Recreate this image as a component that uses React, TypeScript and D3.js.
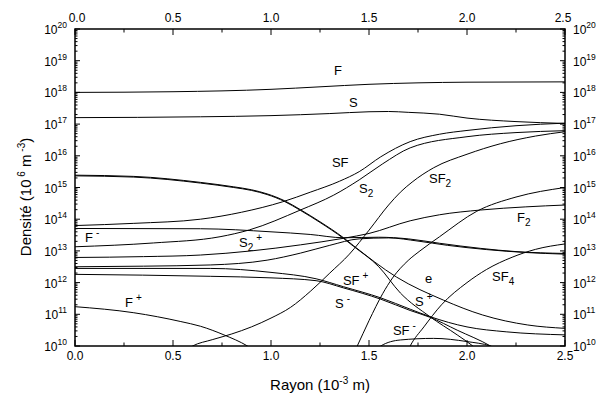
import React from "react";
import * as d3 from "d3";

// radius (10^-3 m) , density (10^6 m^-3)
const F_data = [[0, 1.0e18], [0.5, 1.05e18], [1.0, 1.25e18], [1.25, 1.5e18], [1.5, 1.8e18], [1.75, 2.0e18], [2.0, 2.1e18], [2.5, 2.15e18]];
const S_data = [[0, 1.6e17], [0.64, 1.7e17], [1.0, 1.85e17], [1.3, 2.15e17], [1.5, 2.45e17], [1.6, 2.5e17], [1.7, 2.35e17], [1.86, 2.05e17], [2.0, 1.55e17], [2.25, 1.2e17], [2.5, 1.05e17]];
const SF_data = [[0, 6.3e13], [0.3, 7.4e13], [0.64, 1.0e14], [0.85, 1.66e14], [1.06, 3.55e14], [1.2, 7.1e14], [1.35, 1.58e15], [1.45, 3.16e15], [1.56, 9.3e15], [1.71, 2.8e16], [1.86, 4.8e16], [2.0, 6.3e16], [2.25, 8.9e16], [2.5, 1.07e17]];
const S2_data = [[0, 1.35e13], [0.4, 1.78e13], [0.74, 2.8e13], [0.89, 4.6e13], [1.15, 1.95e14], [1.32, 5.75e14], [1.45, 1.74e15], [1.57, 5.6e15], [1.71, 1.78e16], [2.0, 4.0e16], [2.25, 5.4e16], [2.5, 6.2e16]];
const SF2_data = [[0.55, 6.3e9], [0.6, 1.0e10], [0.7, 1.58e10], [0.8, 2.4e10], [0.9, 4.0e10], [1.0, 7.6e10], [1.1, 1.66e11], [1.2, 5.25e11], [1.3, 2.0e12], [1.4, 7.9e12], [1.5, 4.5e13], [1.6, 2.8e14], [1.66, 7.1e14], [1.72, 1.48e15], [1.83, 4.2e15], [2.0, 1.12e16], [2.17, 2.4e16], [2.35, 4.2e16], [2.5, 5.75e16]];
const SF3_data = [[1.4, 3.2e9], [1.44, 1.0e10], [1.5, 6.3e10], [1.57, 4.5e11], [1.62, 1.4e12], [1.7, 5.0e12], [1.76, 1.0e13], [1.86, 2.8e13], [2.05, 1.78e14], [2.25, 5.0e14], [2.5, 1.0e15]];
const F2_data = [[0, 6.2e12], [0.35, 6.6e12], [0.64, 7.4e12], [0.9, 1.0e13], [1.15, 1.55e13], [1.37, 2.5e13], [1.5, 3.55e13], [1.71, 8.9e13], [1.86, 1.38e14], [2.07, 1.95e14], [2.3, 2.45e14], [2.5, 2.8e14]];
const SF4_data = [[1.68, 4.0e9], [1.71, 1.0e10], [1.78, 4.0e10], [1.87, 2.0e11], [2.0, 1.0e12], [2.1, 2.6e12], [2.23, 6.3e12], [2.35, 1.12e13], [2.5, 1.66e13]];
const e_data = [[0, 2.45e15], [0.3, 2.24e15], [0.64, 1.45e15], [0.81, 1.05e15], [0.9, 8.5e14], [0.98, 6.3e14], [1.07, 3.8e14], [1.15, 2.0e14], [1.25, 8.3e13], [1.37, 2.6e13], [1.42, 1.48e13], [1.64, 1.5e12], [1.88, 2.8e11], [2.08, 9.5e10], [2.31, 4.6e10], [2.5, 3.6e10]];
const Splus_data = [[0, 2.33e15], [0.3, 2.13e15], [0.64, 1.38e15], [0.81, 1.0e15], [0.9, 8.1e14], [0.98, 6.0e14], [1.07, 3.6e14], [1.15, 1.9e14], [1.25, 7.9e13], [1.37, 2.47e13], [1.42, 1.41e13], [1.55, 3.16e12], [1.66, 4.7e11], [1.81, 8.5e10], [1.95, 2.24e10], [2.03, 1.0e10], [2.07, 6.3e9]];
const Fminus_data = [[0, 5.1e13], [0.64, 5.0e13], [1.0, 4.0e13], [1.2, 3.3e13], [1.37, 2.6e13], [1.55, 2.7e13], [1.7, 2.4e13], [1.86, 1.74e13], [2.07, 1.2e13], [2.25, 9.5e12], [2.5, 8.3e12]];
const S2plus_data = [[0, 3.16e12], [0.35, 3.3e12], [0.69, 3.6e12], [0.98, 5.1e12], [1.15, 8.5e12], [1.3, 1.5e13], [1.45, 2.4e13], [1.6, 2.57e13], [1.75, 2.04e13], [1.9, 1.5e13], [2.1, 1.1e13], [2.3, 8.9e12], [2.5, 7.9e12]];
const SFplus_data = [[0, 2.8e12], [0.69, 2.8e12], [1.0, 2.1e12], [1.23, 1.32e12], [1.37, 7.4e11], [1.56, 3.3e11], [1.71, 1.45e11], [1.81, 8.5e10], [2.0, 4.0e10], [2.2, 2.8e10], [2.5, 2.24e10]];
const Sminus_data = [[0, 1.82e12], [0.69, 1.58e12], [1.0, 1.41e12], [1.23, 1.15e12], [1.37, 6.8e11], [1.56, 3.0e11], [1.71, 1.32e11], [1.81, 8.1e10], [1.95, 3.16e10], [2.12, 1.0e10], [2.16, 7.1e9]];
const Fplus_data = [[0, 1.74e11], [0.3, 1.12e11], [0.54, 5.9e10], [0.64, 4.2e10], [0.76, 2.24e10], [0.88, 1.0e10], [0.93, 6.3e9]];
const SFminus_data = [[1.5, 5.0e9], [1.56, 1.0e10], [1.66, 1.55e10], [1.83, 1.74e10], [2.0, 1.38e10], [2.12, 1.0e10], [2.18, 7.1e9]];

const seriesList = [F_data, S_data, SF_data, S2_data, SF2_data, SF3_data, F2_data, SF4_data, e_data, Splus_data, Fminus_data, S2plus_data, SFplus_data, Sminus_data, Fplus_data, SFminus_data];

// label: text, subscript, superscript, radius, density
const labelNames = ["F", "S", "SF", "S", "S", "SF", "F", "F", "F", "SF", "S", "e", "S", "SF", "SF"];
const labelSubs = ["", "", "", "2", "2", "2", "2", "", "", "", "", "", "", "", "4"];
const labelSups = ["", "", "", "", "+", "", "", "-", "+", "+", "-", "", "+", "-", ""];
const labelR = [1.321, 1.398, 1.311, 1.449, 0.837, 1.806, 2.255, 0.051, 0.255, 1.367, 1.327, 1.786, 1.735, 1.622, 2.128];
const labelV = [3.5e18, 3.5e17, 4.5e15, 6.8e14, 1.32e13, 1.38e15, 8.1e13, 1.9e13, 1.7e11, 8.3e11, 1.6e11, 9.8e11, 1.8e11, 2.2e10, 1.12e12];

const xMajor = [0, 0.5, 1.0, 1.5, 2.0, 2.5];
const xMinor = [0.25, 0.75, 1.25, 1.75, 2.25];
const yExps = [10, 11, 12, 13, 14, 15, 16, 17, 18, 19, 20];

const FONT = "'Liberation Sans', Arial, Helvetica, sans-serif";

export default function App() {
  const L = 75, R = 565, T = 29, B = 346;
  const x = d3.scaleLinear().domain([0, 2.5]).range([L, R]);
  const y = d3.scaleLog().domain([1e10, 1e20]).range([B, T]);
  const line = d3.line<number[]>().x(d => x(d[0])).y(d => y(d[1])).curve(d3.curveMonotoneX);

  const yMinor: number[] = [];
  for (let e = 10; e < 20; e++) for (let k = 2; k <= 9; k++) yMinor.push(k * Math.pow(10, e));

  return (
    <svg width={608} height={396} style={{ position: "absolute", left: 0, top: 0, background: "#fff" }} fontFamily={FONT}>
      <defs>
        <clipPath id="plot"><rect x={L} y={T} width={R - L} height={B - T} /></clipPath>
      </defs>
      <rect x={0} y={0} width={608} height={396} fill="#fff" />
      <g clipPath="url(#plot)" fill="none" stroke="#000" strokeWidth={1}>
        {seriesList.map((s, i) => <path key={i} d={line(s) || ""} />)}
      </g>
      {/* ticks */}
      <g stroke="#000" strokeWidth={1}>
        {xMajor.map(v => <line key={"xb" + v} x1={x(v)} x2={x(v)} y1={B} y2={B - 6} />)}
        {xMinor.map(v => <line key={"xbm" + v} x1={x(v)} x2={x(v)} y1={B} y2={B - 3.5} />)}
        {xMajor.map(v => <line key={"xt" + v} x1={x(v)} x2={x(v)} y1={T} y2={T + 6} />)}
        {xMinor.map(v => <line key={"xtm" + v} x1={x(v)} x2={x(v)} y1={T} y2={T + 3.5} />)}
        {yExps.map(e => <line key={"yl" + e} x1={L} x2={L + 5} y1={y(Math.pow(10, e))} y2={y(Math.pow(10, e))} />)}
        {yExps.map(e => <line key={"yr" + e} x1={R} x2={R - 5} y1={y(Math.pow(10, e))} y2={y(Math.pow(10, e))} />)}
        {yMinor.map((v, i) => <line key={"ylm" + i} x1={L} x2={L + 2.5} y1={y(v)} y2={y(v)} />)}
        {yMinor.map((v, i) => <line key={"yrm" + i} x1={R} x2={R - 2.5} y1={y(v)} y2={y(v)} />)}
      </g>
      <rect x={L} y={T} width={R - L} height={B - T} fill="none" stroke="#000" strokeWidth={1.5} />
      {/* tick labels */}
      <g fontSize={12} fill="#000">
        {xMajor.map(v => <text key={"lb" + v} x={x(v)} y={B + 14} textAnchor="middle">{v.toFixed(1)}</text>)}
        {xMajor.map(v => <text key={"lt" + v} x={x(v) + (v === 0 ? 2 : v === 2.5 ? -2 : 0)} y={T - 7} textAnchor="middle">{v.toFixed(1)}</text>)}
        {yExps.map(e => (
          <text key={"tl" + e} x={67} y={y(Math.pow(10, e)) + 5} textAnchor="end">10<tspan fontSize={8.5} dy={-6}>{e}</tspan></text>
        ))}
        {yExps.map(e => (
          <text key={"tr" + e} x={573} y={y(Math.pow(10, e)) + 5} textAnchor="start">10<tspan fontSize={8.5} dy={-6}>{e}</tspan></text>
        ))}
      </g>
      {/* curve labels */}
      <g fontSize={13} fill="#000">
        {labelNames.map((n, i) => (
          <text key={"cl" + i} x={x(labelR[i])} y={y(labelV[i])}>
            {n}
            {labelSubs[i] ? <tspan fontSize={10} dy={4}>{labelSubs[i]}</tspan> : null}
            {labelSups[i] ? <tspan fontSize={10} dx={3} dy={labelSubs[i] ? -10 : -6}>{labelSups[i]}</tspan> : null}
          </text>
        ))}
      </g>
      {/* axis titles */}
      <text x={320} y={390} textAnchor="middle" fontSize={15} fill="#000">
        Rayon (10<tspan fontSize={10} dy={-6}>-3</tspan><tspan dy={6}> m)</tspan>
      </text>
      <text transform="translate(31,197) rotate(-90)" textAnchor="middle" fontSize={15} fill="#000">
        Densité (10<tspan fontSize={10} dy={-6}> 6</tspan><tspan dy={6}> m</tspan><tspan fontSize={10} dy={-6}> -3</tspan><tspan dy={6}>)</tspan>
      </text>
    </svg>
  );
}
